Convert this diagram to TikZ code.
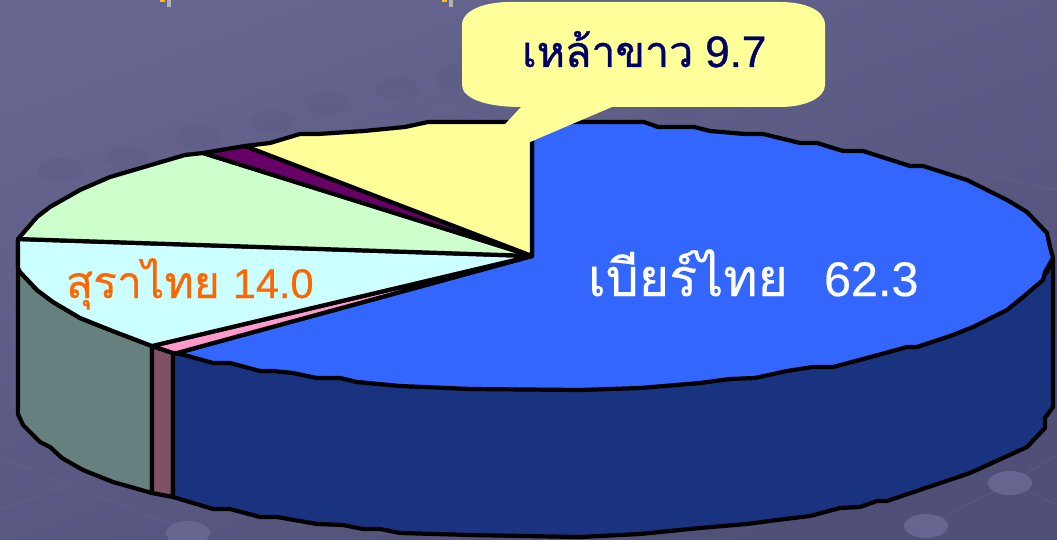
\documentclass[tikz,border=0pt]{standalone}
\usepackage{fontspec}
\setmainfont[FakeBold=0.4]{Liberation Sans}
\newfontfamily\thaifont[Script=Thai,FakeBold=0.4]{Loma}
\newfontfamily\thaiheavy[Script=Thai,FakeBold=0.9]{Loma}
\newfontfamily\digitheavy[FakeBold=0.9]{Liberation Sans}
\definecolor{bgA}{HTML}{65658F}
\definecolor{bgB}{HTML}{4F4F78}
\definecolor{discC}{HTML}{5C5C87}
\definecolor{discL}{HTML}{686892}
\definecolor{lineC}{HTML}{6E6E98}
\definecolor{pieblue}{HTML}{3366FF}
\definecolor{sideblue}{HTML}{193380}
\definecolor{piepink}{HTML}{FF99CC}
\definecolor{sidepink}{HTML}{805066}
\definecolor{piecyan}{HTML}{CCFFFF}
\definecolor{sidecyan}{HTML}{668080}
\definecolor{piegreen}{HTML}{CCFFCC}
\definecolor{piepurple}{HTML}{660066}
\definecolor{pieyellow}{HTML}{FFFF99}
\definecolor{textnavy}{HTML}{000066}
\definecolor{textorange}{HTML}{FF6600}
\definecolor{markY}{HTML}{FFC000}
\tikzset{
  facet/.style={draw=black,line width=4.2pt,line join=round,line cap=round},
  disc/.style={fill=discC,draw=none,opacity=0.45},
  disclight/.style={fill=discL,draw=none,opacity=0.9},
  faint/.style={draw=lineC,line width=0.8pt,opacity=0.35},
  lbl/.style={anchor=base west,inner sep=0pt,outer sep=0pt}
}
\begin{document}
\begin{tikzpicture}[x=1pt,y=-1pt]
\useasboundingbox (0,0) rectangle (1057,540);
\shade[shading=axis,top color=bgA,bottom color=bgB,shading angle=20] (0,0) rectangle (1057,540);
% background texture
\draw[faint] (0,458) -- (173,525) (0,510) -- (53,490) (53,490) -- (73,485);
\draw[faint] (327,103) -- (398,90) (398,90) -- (456,77) (398,95) -- (520,128);
\draw[faint] (973,172) -- (1057,190) (1010,483) -- (926,526) (1010,483) -- (1057,455) (1010,483) -- (1057,505);
\foreach \px/\py in {60/170,127/158,198/137,272/122,327/103,398/90,456/77,680/115,778/132,867/150,973/172,73/485}
  \fill[disc] (\px,\py) ellipse (22 and 12);
\foreach \px/\py in {188/533,1010/483,926/526}
  \fill[disclight] (\px,\py) ellipse (22 and 12);
% tiny marks at top
\fill[markY] (160,0) rectangle (165,2.5);
\fill[gray!60] (167,0) rectangle (171,7);
\fill[markY] (442,0) rectangle (447,2.5);
\fill[gray!60] (449,0) rectangle (453,7);
\coordinate (ctr) at (532,256);
% side walls
\draw[facet,fill=sidecyan] (18,240) -- (18,414) -- (23,425) -- (40,442) -- (50,447) -- (62,458) -- (83,470) -- (113,482) -- (152,493) -- (152,346) -- (110,330) -- (80,318) -- (53,302) -- (37,290) -- (20,272) -- cycle;
\draw[facet,fill=sidepink] (152,346) -- (152,493) -- (173,497) -- (173,353) -- cycle;
\draw[facet,fill=sideblue] (173,353) -- (173,497) -- (213,509) -- (230,509) -- (260,517) -- (277,517) -- (317,524) -- (343,525) -- (363,529) -- (380,529) -- (400,533) -- (470,535) -- (580,537) -- (640,534) -- (700,528) -- (747,524) -- (777,520) -- (810,516) -- (840,508) -- (860,507) -- (877,501) -- (887,501) -- (970,473) -- (1027,447) -- (1045,428) -- (1045,418) -- (1053,407) -- (1053,258) -- (1047,272) -- (1023,297) -- (973,327) -- (907,347) -- (700,383) -- (400,385) -- cycle;
% top slices
\draw[facet,fill=pieblue] (ctr) -- (532,142) -- (532,122) -- (570,122) -- (644,122) -- (658,127) -- (694,127) -- (710,131) -- (745,134) -- (763,134) -- (800,143) -- (817,143) -- (843,151) -- (863,151) -- (910,166) -- (923,166) -- (967,180) -- (1007,200) -- (1027,212) -- (1047,233) -- (1050,247) -- (1053,258) -- (1045,272) -- (1043,280) -- (1023,297) -- (1007,310) -- (973,327) -- (953,335) -- (917,347) -- (907,347) -- (867,358) -- (833,367) -- (813,367) -- (787,371) -- (755,378) -- (730,379) -- (700,383) -- (640,388) -- (580,390) -- (470,389) -- (400,386) -- (357,382) -- (340,378) -- (317,378) -- (293,373) -- (273,371) -- (260,371) -- (230,363) -- (213,363) -- (177,353) -- cycle;
\draw[facet,fill=piepink] (ctr) -- (177,353) -- (173,353) -- (152,346) -- cycle;
\draw[facet,fill=piecyan] (ctr) -- (152,346) -- (110,330) -- (80,318) -- (53,302) -- (37,290) -- (20,272) -- (18,268) -- (18,239) -- cycle;
\draw[facet,fill=piegreen] (ctr) -- (18,239) -- (37,217) -- (50,207) -- (80,190) -- (110,177) -- (185,155) -- (203,153) -- cycle;
\draw[facet,fill=piepurple] (ctr) -- (203,153) -- (245,146) -- cycle;
\draw[facet,fill=pieyellow] (ctr) -- (245,146) -- (270,143) -- (300,134) -- (318,134) -- (364,131) -- (405,127) -- (428,122) -- (532,122) -- (532,142) -- cycle;
% callout
\fill[pieyellow] (462,25) -- (462,85)
  .. controls (462,98) and (485,107) .. (521,107) -- (495,135) -- (530,142) -- (612,107) -- (780,107)
  .. controls (805,107) and (825,98) .. (825,85) -- (825,25)
  .. controls (825,10) and (805,2) .. (780,2) -- (510,2)
  .. controls (485,2) and (462,10) .. (462,25) -- cycle;
% labels
\node[lbl,text=textnavy] (white) at (522,67) {{\fontsize{43}{43}\selectfont\thaiheavy เหล้าขาว}\hspace{12pt}{\fontsize{44}{44}\selectfont\digitheavy 9.7}};
\node[lbl,text=white] (beer) at (588,296) {{\fontsize{52}{52}\selectfont\thaifont เบียร์ไทย}\hspace{36pt}{\fontsize{48.5}{48.5}\selectfont 62.3}};
\node[lbl,text=textorange] (liquor) at (66,298) {{\fontsize{44.5}{44.5}\selectfont\thaifont สุราไทย}\hspace{13pt}{\fontsize{41.5}{41.5}\selectfont 14.0}};
\end{tikzpicture}
\end{document}
